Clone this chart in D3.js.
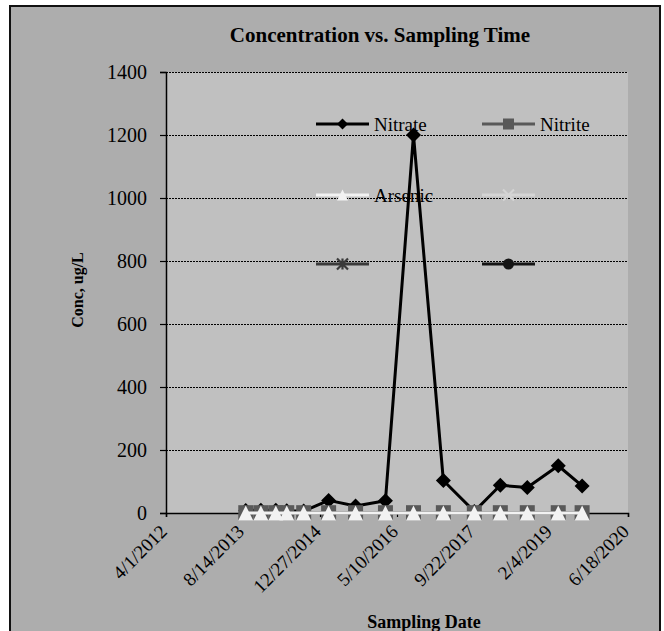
<!DOCTYPE html>
<html>
<head>
<meta charset="utf-8">
<script src="https://cdn.jsdelivr.net/npm/d3@7"></script>
<style>
  html, body { margin: 0; padding: 0; background: #ffffff; }
  svg { display: block; }
  text { font-family: "Liberation Serif", "Times New Roman", serif; fill: #000; }
</style>
</head>
<body>
<svg id="chart" width="664" height="631"></svg>
<script>
// Sampling dates and measured concentrations (ug/L)
const sampleDates = ["9/1/2013", "12/8/2013", "3/15/2014", "5/25/2014", "9/12/2014",
  "2/21/2015", "8/15/2015", "2/25/2016", "8/25/2016", "3/7/2017", "9/24/2017",
  "3/12/2018", "9/3/2018", "3/23/2019", "8/25/2019"];
const nitrate = [8, 9, 9, 7, 6, 40, 22, 39, 1200, 103, 5, 88, 81, 150, 86];
const nitrite = [1, 1, 1, 1, 1, 1, 1, 1, 1, 1, 1, 1, 1, 1, 1];
const arsenic = [0, 0, 0, 0, 0, 0, 0, 0, 0, 0, 0, 0, 0, 0, 0];

// Axis ticks
const xTickLabels = ["4/1/2012", "8/14/2013", "12/27/2014", "5/10/2016", "9/22/2017", "2/4/2019", "6/18/2020"];
const yTicks = [0, 200, 400, 600, 800, 1000, 1200, 1400];

// Legend entries (the last three have no samples plotted)
const legendNames = ["Nitrate", "Nitrite", "Arsenic", "", "", ""];
const legendColors = ["#000000", "#595959", "#f2f2f2", "#d4d4d4", "#3a3a3a", "#141414"];
const legendShapes = ["diamond", "square", "triangle", "x", "star", "circle"];

const parse = d3.timeParse("%m/%d/%Y");
const svg = d3.select("#chart");

const plot = { left: 166, right: 628, top: 72, bottom: 513 };

// Chart area with border
svg.append("rect").attr("x", 10).attr("y", 6).attr("width", 650).attr("height", 640)
  .attr("fill", "#adadad").attr("stroke", "#111").attr("stroke-width", 2);

// Plot area background
svg.append("rect").attr("x", plot.left).attr("y", plot.top)
  .attr("width", plot.right - plot.left).attr("height", plot.bottom - plot.top)
  .attr("fill", "#c0c0c0");

const xTickDates = xTickLabels.map(parse);
const x = d3.scaleTime()
  .domain([xTickDates[0], xTickDates[xTickDates.length - 1]])
  .range([plot.left, plot.right]);
const y = d3.scaleLinear().domain([0, 1400]).range([plot.bottom, plot.top]);

// Horizontal gridlines
svg.append("g").selectAll("line").data(yTicks.filter(d => d > 0)).join("line")
  .attr("x1", plot.left).attr("x2", plot.right)
  .attr("y1", d => y(d) + 0.5).attr("y2", d => y(d) + 0.5)
  .attr("stroke", "#000").attr("stroke-width", 1).attr("stroke-dasharray", "2,1");

// Y axis
const yAxis = svg.append("g").attr("transform", `translate(${plot.left},0)`)
  .call(d3.axisLeft(y).tickValues(yTicks).tickSize(6).tickPadding(13).tickFormat(d3.format("d")));
yAxis.select(".domain").attr("stroke", "#000").attr("stroke-width", 1.5);
yAxis.selectAll(".tick line").attr("stroke", "#000").attr("stroke-width", 1.2);
yAxis.selectAll("text").attr("font-family", "Liberation Serif").attr("font-size", 20).attr("fill", "#000");

// X axis
const xAxis = svg.append("g").attr("transform", `translate(0,${plot.bottom})`)
  .call(d3.axisBottom(x).tickValues(xTickDates).tickSize(4)
    .tickFormat((d, i) => xTickLabels[i]));
xAxis.select(".domain").attr("stroke", "#000").attr("stroke-width", 1.5);
xAxis.selectAll(".tick line").attr("stroke", "#000").attr("stroke-width", 1.2);
xAxis.selectAll("text")
  .attr("font-family", "Liberation Serif").attr("font-size", 19).attr("fill", "#000")
  .attr("text-anchor", "end").attr("dy", "0.35em").attr("y", 0)
  .attr("transform", "translate(-3,15) rotate(-45)");

// Marker shapes
function markerPath(shape, s) {
  const h = s / 2;
  switch (shape) {
    case "diamond": return `M0,${-h}L${h},0L0,${h}L${-h},0Z`;
    case "square": return `M${-h},${-h}H${h}V${h}H${-h}Z`;
    case "triangle": return `M0,${-h}L${h},${h}L${-h},${h}Z`;
    case "x": return `M${-h},${-h}L${h},${h}M${h},${-h}L${-h},${h}`;
    case "star": return `M${-h},${-h}L${h},${h}M${h},${-h}L${-h},${h}M0,${-h}V${h}`;
    case "circle": return `M${h},0A${h},${h} 0 1,1 ${-h},0A${h},${h} 0 1,1 ${h},0Z`;
  }
}

const dates = sampleDates.map(parse);
const series = [
  { values: nitrate, color: "#000000", shape: "diamond", size: 15 },
  { values: nitrite, color: "#595959", shape: "square", size: 15 },
  { values: arsenic, color: "#f2f2f2", shape: "triangle", size: 15 }
];

const line = d3.line().x(d => x(d[0])).y(d => y(d[1]));

series.forEach(s => {
  const pts = dates.map((d, i) => [d, s.values[i]]);
  const g = svg.append("g");
  g.append("path").datum(pts).attr("d", line)
    .attr("fill", "none").attr("stroke", s.color).attr("stroke-width", 3)
    .attr("stroke-linejoin", "round");
  g.selectAll("path.m").data(pts).join("path").attr("class", "m")
    .attr("transform", d => `translate(${x(d[0])},${y(d[1])})`)
    .attr("d", markerPath(s.shape, s.size))
    .attr("fill", s.color);
});

// Legend
const legendCols = [316, 482];
const legendRows = [124, 195, 264];
legendNames.forEach((name, i) => {
  const lx = legendCols[i % 2];
  const ly = legendRows[Math.floor(i / 2)];
  const g = svg.append("g").attr("transform", `translate(${lx},${ly})`);
  const c = legendColors[i];
  g.append("line").attr("x1", 0).attr("x2", 53).attr("y1", 0).attr("y2", 0)
    .attr("stroke", c).attr("stroke-width", 3);
  const shape = legendShapes[i];
  const open = shape === "x" || shape === "star";
  g.append("path").attr("transform", "translate(26.5,0)")
    .attr("d", markerPath(shape, 11))
    .attr("fill", open ? "none" : c)
    .attr("stroke", open ? c : "none").attr("stroke-width", 2.2);
  if (name) {
    g.append("text").attr("x", 58).attr("y", 6.5)
      .attr("font-size", 19).text(name);
  }
});

// Titles
svg.append("text").attr("x", 380).attr("y", 42).attr("text-anchor", "middle")
  .attr("font-size", 21).attr("font-weight", "bold").text("Concentration vs. Sampling Time");

svg.append("text").attr("transform", "translate(83,290) rotate(-90)")
  .attr("text-anchor", "middle").attr("font-size", 16).attr("font-weight", "bold")
  .text("Conc, ug/L");

svg.append("text").attr("x", 424).attr("y", 628).attr("text-anchor", "middle")
  .attr("font-size", 18).attr("font-weight", "bold").text("Sampling Date");
</script>
</body>
</html>
